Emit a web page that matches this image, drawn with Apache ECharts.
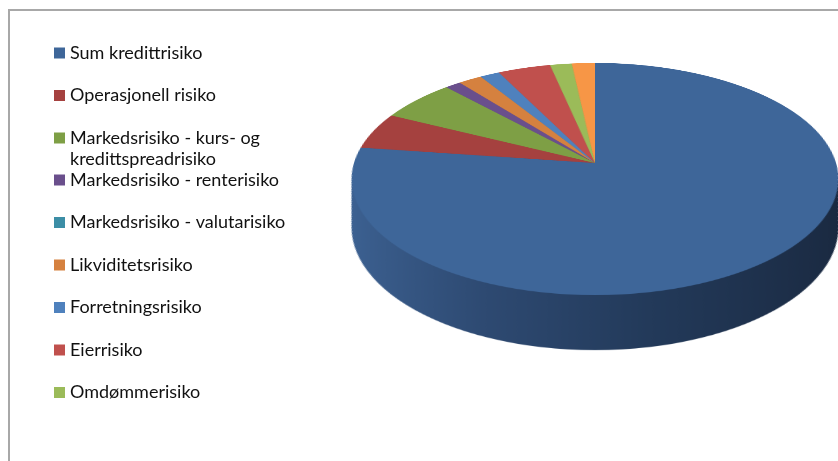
<!DOCTYPE html>
<html>
<head>
<meta charset="utf-8">
<script src="https://cdn.jsdelivr.net/npm/echarts@6/dist/echarts.min.js"></script>
<style>
html, body { margin: 0; padding: 0; background: #fff; overflow: hidden; }
#frame { position: absolute; left: 0; top: 0; width: 838px; height: 461px; }
/* pie is drawn flat, then tilted with a css perspective to get the excel 3d look */
#pie {
  position: absolute; left: 335px; top: -97px; width: 520px; height: 600px;
  transform-origin: 260px 260px;
  transform: perspective(1540px) rotateX(61.8deg);
}
</style>
</head>
<body>
<div id="frame"></div>
<div id="pie"></div>
<script>
var categories = [
  'Sum kredittrisiko',
  'Operasjonell risiko',
  'Markedsrisiko - kurs- og kredittspreadrisiko',
  'Markedsrisiko - renterisiko',
  'Markedsrisiko - valutarisiko',
  'Likviditetsrisiko',
  'Forretningsrisiko',
  'Eierrisiko',
  'Omdømmerisiko',
  'Øvrig risiko'
];
var values = [77.2, 5.1, 5.8, 1.2, 0, 1.8, 1.5, 4.0, 1.65, 1.75];
var legendNames = categories.slice(0, 9);

var topColors = ['#3e6699', '#a5413f', '#7e9f45', '#6a4f8c', '#3c8ea6', '#d5813f', '#4f81bd', '#c0504d', '#9bbb59', '#f79646'];
var sideColors = ['#2c4870', '#752e2c', '#5a7232', '#4b3864', '#2b6577', '#985b2c', '#385c87', '#893936', '#6f8640', '#b06b32'];

var legendFont = { fontFamily: 'Lato', fontSize: 18, color: '#111', lineHeight: 20 };
// the long legend entry wraps after "og", excel style
var wrapAt = ' kredittspread';
var longName = categories[2];

function legendBlock(names, top) {
  return {
    orient: 'vertical',
    left: 54,
    top: top,
    padding: 0,
    itemWidth: 11,
    itemHeight: 11,
    itemGap: 22.5,
    icon: 'rect',
    selectedMode: false,
    textStyle: legendFont,
    formatter: function (name) {
      return name === longName ? name.slice(0, name.indexOf(wrapAt)) : name;
    },
    data: names
  };
}

var frameChart = echarts.init(document.getElementById('frame'));
frameChart.setOption({
  animation: false,
  graphic: [{
    type: 'rect', silent: true,
    shape: { x: 9, y: 10, width: 900, height: 600 },
    style: { fill: 'none', stroke: '#a8a8a8', lineWidth: 2 }
  }, {
    type: 'text', silent: true, x: 70, y: 159,
    style: {
      text: longName.slice(longName.indexOf(wrapAt) + 1),
      font: '18px Lato', fill: '#111', verticalAlign: 'middle'
    }
  }],
  legend: [
    legendBlock(legendNames.slice(0, 3), 43),
    legendBlock(legendNames.slice(3), 170)
  ],
  // hidden pie, only so the legend has something to list
  series: [{
    type: 'pie', silent: true, radius: 0, center: [-50, -50],
    label: { show: false }, labelLine: { show: false },
    data: categories.map(function (name, i) {
      return { name: name, value: values[i], itemStyle: { color: topColors[i] } };
    })
  }]
});

var pieChart = echarts.init(document.getElementById('pie'), null, { devicePixelRatio: 2 });
var R = 241, S = Math.sin(61.8 * Math.PI / 180), D = 1540;
var sideGradient = {
  type: 'linear', x: 0, y: 0, x2: 1, y2: 0,
  colorStops: [
    { offset: 0, color: '#3d6293' },
    { offset: 0.3, color: '#2e4a72' },
    { offset: 0.6, color: '#233a5a' },
    { offset: 1, color: '#1a2940' }
  ]
};

function pieLayer(t, r, colorFor, z) {
  return {
    type: 'pie', silent: true, z: z,
    center: [260, 260 + t], radius: r,
    startAngle: 90, clockwise: true,
    label: { show: false }, labelLine: { show: false },
    data: categories.map(function (name, i) {
      return { name: name, value: values[i], itemStyle: { color: colorFor(i) } };
    })
  };
}

var series = [];
var z = 1;
for (var t = 95; t >= 1; t--) {
  // shrink the lower layers so perspective does not make them wider
  series.push(pieLayer(t, R * (1 - t * S / D), function (i) {
    return i === 0 ? sideGradient : sideColors[i];
  }, z++));
}
series.push(pieLayer(0, R, function (i) { return topColors[i]; }, z++));

pieChart.setOption({ animation: false, series: series });
</script>
</body>
</html>
